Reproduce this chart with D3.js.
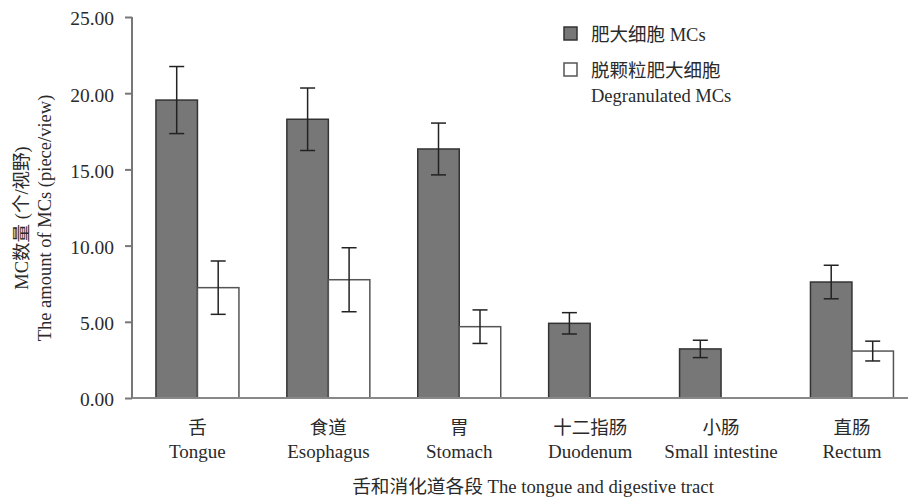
<!DOCTYPE html>
<html lang="zh">
<head>
    <meta charset="UTF-8">
    <title>MC amount by tract segment</title>
    <script src="https://d3js.org/d3.v7.min.js"></script>
    <style>
        body {
            margin: 0;
            background: #fff;
        }
        text {
            font-family: "Liberation Serif", "Noto Sans CJK SC", serif;
            fill: #2a2a2a;
        }
    </style>
</head>
<body>
    <div id="chart"></div>

    <script>
        // data
        const categoriesCn = ["舌", "食道", "胃", "十二指肠", "小肠", "直肠"];
        const categoriesEn = ["Tongue", "Esophagus", "Stomach", "Duodenum", "Small intestine", "Rectum"];
        const mcMean = [19.55, 18.29, 16.34, 4.90, 3.22, 7.61];
        const mcErr = [2.2, 2.05, 1.7, 0.7, 0.57, 1.1];
        const degMean = [7.24, 7.76, 4.68, 0, 0, 3.08];
        const degErr = [1.75, 2.1, 1.1, 0, 0, 0.65];
        const yTicks = [0, 5, 10, 15, 20, 25];
        const seriesKeys = ["mc", "deg"];
        const legendLabels = [["肥大细胞 MCs"], ["脱颗粒肥大细胞", "Degranulated MCs"]];

        const width = 908, height = 497;
        const plotLeft = 132, plotTop = 17, plotBottom = 398;

        const svg = d3.select("#chart").append("svg")
            .attr("width", width)
            .attr("height", height);

        const y = d3.scaleLinear().domain([0, 25]).range([plotBottom, plotTop]);

        const x0 = d3.scaleBand()
            .domain(categoriesEn)
            .range([plotLeft, plotLeft + 6 * 130.9])
            .paddingInner(0.366)
            .paddingOuter(0.183);

        const x1 = d3.scaleBand()
            .domain(seriesKeys)
            .range([0, x0.bandwidth()]);

        const rows = categoriesEn.map((c, i) => ({
            cat: c,
            values: [
                { key: "mc", mean: mcMean[i], err: mcErr[i] },
                { key: "deg", mean: degMean[i], err: degErr[i] }
            ]
        }));

        const fills = { mc: "#777777", deg: "#ffffff" };
        const strokes = { mc: "#333333", deg: "#555555" };

        // bars
        const groups = svg.append("g")
            .selectAll("g")
            .data(rows)
            .enter().append("g")
            .attr("transform", d => `translate(${x0(d.cat)},0)`);

        groups.selectAll("rect")
            .data(d => d.values.filter(v => v.mean > 0))
            .enter().append("rect")
            .attr("x", d => x1(d.key))
            .attr("y", d => y(d.mean))
            .attr("width", x1.bandwidth())
            .attr("height", d => y(0) - y(d.mean))
            .attr("fill", d => fills[d.key])
            .attr("stroke", d => strokes[d.key])
            .attr("stroke-width", 1.5);

        // error bars
        const capW = 15;
        const errs = groups.selectAll("g.err")
            .data(d => d.values.filter(v => v.err > 0))
            .enter().append("g")
            .attr("class", "err")
            .attr("stroke", "#222")
            .attr("stroke-width", 1.5);

        errs.append("line")
            .attr("x1", d => x1(d.key) + x1.bandwidth() / 2)
            .attr("x2", d => x1(d.key) + x1.bandwidth() / 2)
            .attr("y1", d => y(d.mean + d.err))
            .attr("y2", d => y(d.mean - d.err));

        errs.selectAll("line.cap")
            .data(d => [d.mean + d.err, d.mean - d.err].map(v => ({ key: d.key, v: v })))
            .enter().append("line")
            .attr("class", "cap")
            .attr("x1", d => x1(d.key) + x1.bandwidth() / 2 - capW / 2)
            .attr("x2", d => x1(d.key) + x1.bandwidth() / 2 + capW / 2)
            .attr("y1", d => y(d.v))
            .attr("y2", d => y(d.v));

        // y axis
        const yAxis = svg.append("g")
            .attr("transform", `translate(${plotLeft},0)`)
            .call(d3.axisLeft(y).tickValues(yTicks).tickFormat(d3.format(".2f")).tickSize(7).tickPadding(11));
        yAxis.select(".domain").attr("stroke", "#777").attr("stroke-width", 2).attr("d", `M0,${plotTop}V${plotBottom}`);
        yAxis.selectAll(".tick line").attr("stroke", "#777").attr("stroke-width", 2);
        yAxis.selectAll(".tick text")
            .style("font-size", "19.5px")
            .attr("fill", "#2a2a2a")
            .attr("dy", "0.4em");

        // x axis line
        svg.append("line")
            .attr("x1", plotLeft)
            .attr("x2", width)
            .attr("y1", y(0))
            .attr("y2", y(0))
            .attr("stroke", "#888")
            .attr("stroke-width", 2);

        // category labels
        const catLabels = svg.append("g")
            .selectAll("g")
            .data(categoriesEn)
            .enter().append("g")
            .attr("transform", d => `translate(${x0(d) + x0.bandwidth() / 2},0)`);

        catLabels.append("text")
            .attr("y", 434)
            .attr("text-anchor", "middle")
            .style("font-size", "18.5px")
            .text((d, i) => categoriesCn[i]);

        catLabels.append("text")
            .attr("y", 458)
            .attr("text-anchor", "middle")
            .style("font-size", "19px")
            .text(d => d);

        // x title
        svg.append("text")
            .attr("x", 533)
            .attr("y", 493)
            .attr("text-anchor", "middle")
            .style("font-size", "18.7px")
            .text("舌和消化道各段 The tongue and digestive tract");

        // y title
        const yTitle = svg.append("text")
            .attr("transform", "translate(0,218) rotate(-90)")
            .attr("text-anchor", "middle")
            .style("font-size", "18.5px");
        yTitle.append("tspan").attr("x", 0).attr("y", 28).text("MC数量 (个/视野)");
        yTitle.append("tspan").attr("x", 0).attr("y", 51).text("The amount of MCs (piece/view)");

        // legend
        const legend = svg.append("g")
            .selectAll("g")
            .data(seriesKeys)
            .enter().append("g")
            .attr("transform", (d, i) => `translate(564,${27 + i * 36})`);

        legend.append("rect")
            .attr("width", 13)
            .attr("height", 13)
            .attr("fill", d => fills[d])
            .attr("stroke", d => strokes[d])
            .attr("stroke-width", 1.5);

        legend.append("text")
            .attr("x", 27)
            .style("font-size", "18.5px")
            .selectAll("tspan")
            .data((d, i) => legendLabels[i])
            .enter().append("tspan")
            .attr("x", 27)
            .attr("y", (d, j) => 14 + j * 25)
            .text(d => d);
    </script>
</body>
</html>
